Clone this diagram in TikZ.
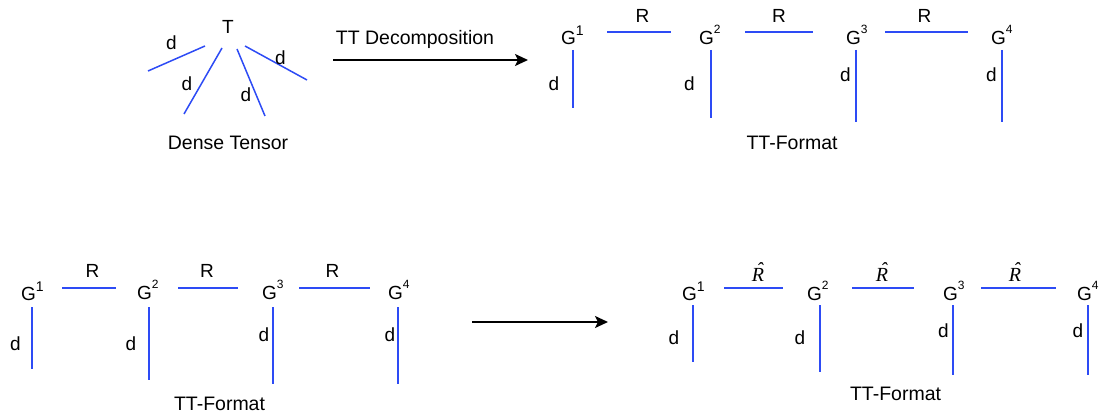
\documentclass[tikz,border=0pt]{standalone}
\usepackage{fontspec}
\setmainfont{Liberation Sans}
\newfontfamily\rserif{Liberation Serif}
\usetikzlibrary{arrows.meta}
\definecolor{tblue}{RGB}{45,75,245}
\newcommand{\Gsup}[3]{G\raisebox{#3pt}{\fontsize{#2}{#2}\selectfont #1}}
\newcommand{\Rhat}{{\rserif\itshape\makebox[0pt][l]{\hspace{4.5pt}\raisebox{5pt}{\char"02C6}}R}}
\newcommand{\seg}[3]{\coordinate (#1a) at (#2); \coordinate (#1b) at (#3); \draw[bond] (#1a) -- (#1b);}
\begin{document}
\begin{tikzpicture}[x=1pt,y=-1pt,
  lbl/.style={font=\fontsize{19}{22}\selectfont, inner sep=0pt, anchor=base},
  captxt/.style={font=\fontsize{19.5}{22}\selectfont, inner sep=0pt, anchor=base},
  glbl/.style={lbl, anchor=base west},
  rhlbl/.style={font=\fontsize{20}{22}\selectfont, inner sep=0pt, anchor=base},
  bond/.style={draw=tblue, line width=1.5pt},
  bigarrow/.style={draw=black, line width=1.8pt, -{Stealth[length=13pt,width=12pt,inset=3pt]}}]
\useasboundingbox (0,0) rectangle (1104,417);

% ---------- Dense tensor ----------
\node[lbl] (T) at (228,34) {T};
\seg{t1}{148,71}{205,46}
\seg{t2}{184,114}{222,48}
\seg{t3}{237,49}{265,116}
\seg{t4}{245,46}{307,80}
\node[lbl] (td1) at (171.5,50) {d};
\node[lbl] (td2) at (187,91) {d};
\node[lbl] (td3) at (246,102) {d};
\node[lbl] (td4) at (280.5,65) {d};
\node[captxt] (dense) at (228,150) {Dense Tensor};

% ---------- top arrow ----------
\coordinate (a1s) at (333,60);
\coordinate (a1e) at (528,60);
\draw[bigarrow] (a1s) -- (a1e);
\node[captxt] (ttd) at (415,45) {TT Decomposition};

% ---------- top TT format ----------
\node[glbl] (g1) at (561,45) {\Gsup{1}{14}{9}};
\node[glbl] (g2) at (699,45) {\Gsup{2}{12}{11}};
\node[glbl] (g3) at (846,45) {\Gsup{3}{12}{11}};
\node[glbl] (g4) at (991,45) {\Gsup{4}{12}{11}};
\seg{r1}{607,32}{671,32}
\seg{r2}{745,32}{813,32}
\seg{r3}{885,32}{968,32}
\node[lbl] (rl1) at (642.5,23) {R};
\node[lbl] (rl2) at (779,23) {R};
\node[lbl] (rl3) at (924.5,23) {R};
\seg{v1}{573,50}{573,108}
\seg{v2}{711,50}{711,118}
\seg{v3}{856,50}{856,122}
\seg{v4}{1002,50}{1002,122}
\node[lbl] (d1) at (554,91) {d};
\node[lbl] (d2) at (689.5,91) {d};
\node[lbl] (d3) at (845.5,82) {d};
\node[lbl] (d4) at (991.5,82) {d};
\node[captxt] (ttf1) at (792,150) {TT-Format};

% ---------- bottom-left TT format ----------
\node[glbl] (bg1) at (21,300) {\Gsup{1}{14}{9}};
\node[glbl] (bg2) at (137,299) {\Gsup{2}{12}{11}};
\node[glbl] (bg3) at (262,299) {\Gsup{3}{12}{11}};
\node[glbl] (bg4) at (388,299) {\Gsup{4}{12}{11}};
\seg{br1}{62,288}{116,288}
\seg{br2}{178,288}{238,288}
\seg{br3}{299,288}{370,288}
\node[lbl] (brl1) at (92.5,277) {R};
\node[lbl] (brl2) at (207,277) {R};
\node[lbl] (brl3) at (332.5,277) {R};
\seg{bv1}{32,307}{32,369}
\seg{bv2}{149,307}{149,380}
\seg{bv3}{273,307}{273,384}
\seg{bv4}{398,307}{398,384}
\node[lbl] (bd1) at (15.5,350) {d};
\node[lbl] (bd2) at (131,350) {d};
\node[lbl] (bd3) at (264,341) {d};
\node[lbl] (bd4) at (390,341) {d};
\node[captxt] (ttf2) at (219.5,410) {TT-Format};

% ---------- bottom arrow ----------
\coordinate (a2s) at (472,322);
\coordinate (a2e) at (608,322);
\draw[bigarrow] (a2s) -- (a2e);

% ---------- bottom-right TT format ----------
\node[glbl] (cg1) at (682,300) {\Gsup{1}{14}{9}};
\node[glbl] (cg2) at (807,300) {\Gsup{2}{12}{11}};
\node[glbl] (cg3) at (943,300) {\Gsup{3}{12}{11}};
\node[glbl] (cg4) at (1077,300) {\Gsup{4}{12}{11}};
\seg{cr1}{724,288}{783,288}
\seg{cr2}{852,288}{914,288}
\seg{cr3}{981,288}{1056,288}
\node[rhlbl] (crl1) at (758,281) {\Rhat};
\node[rhlbl] (crl2) at (882,281) {\Rhat};
\node[rhlbl] (crl3) at (1015,281) {\Rhat};
\seg{cv1}{693,305}{693,362}
\seg{cv2}{820,305}{820,372}
\seg{cv3}{953,305}{953,375}
\seg{cv4}{1088,305}{1088,375}
\node[lbl] (cd1) at (674,344) {d};
\node[lbl] (cd2) at (800,344) {d};
\node[lbl] (cd3) at (943.5,337) {d};
\node[lbl] (cd4) at (1078,337) {d};
\node[captxt] (ttf3) at (895.5,400) {TT-Format};
\end{tikzpicture}
\end{document}
